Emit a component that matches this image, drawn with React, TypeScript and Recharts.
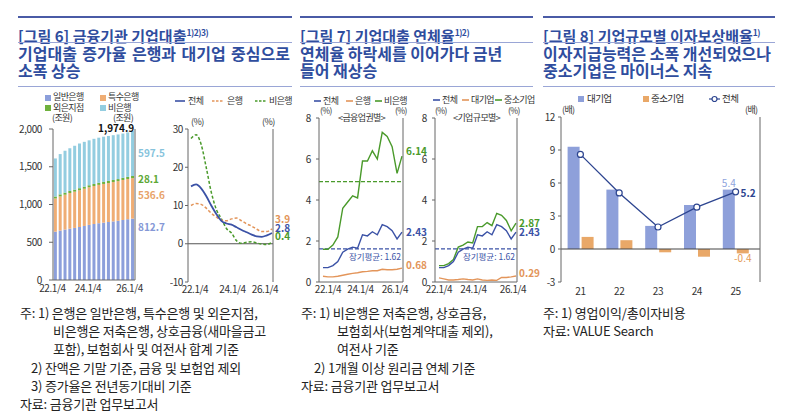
import React from "react";
import { BarChart, Bar, LineChart, Line, ComposedChart, XAxis, YAxis, ReferenceLine, LabelList } from "recharts";

const FONT = '"Noto Sans CJK KR", "Noto Sans", sans-serif';

// 분기 (22.1/4 ~ 26.1/4)
const quarters = [
  "22.1/4", "22.2/4", "22.3/4", "22.4/4",
  "23.1/4", "23.2/4", "23.3/4", "23.4/4",
  "24.1/4", "24.2/4", "24.3/4", "24.4/4",
  "25.1/4", "25.2/4", "25.3/4", "25.4/4",
  "26.1/4",
];

// [그림 6] 기업대출 잔액 (조원)
const generalBank = [640, 655, 668, 680, 690, 702, 716, 730, 742, 752, 760, 768, 776, 784, 795, 805, 812.7];
const specialBank = [440, 452, 462, 472, 480, 487, 493, 498, 503, 508, 512, 516, 521, 525, 530, 533, 536.6];
const foreignBranch = [26, 27, 27, 27, 27, 27, 27, 27, 27, 27, 27, 28, 28, 28, 28, 28, 28.1];
const nonBank = [504, 534, 555, 566, 581, 592, 594, 595, 598, 598, 599, 596, 593, 591, 587, 589, 597.5];

// [그림 6] 증가율 (%)
const growthTotal = [15.0, 15.5, 14.5, 12.5, 10.0, 7.8, 6.0, 5.3, 5.0, 4.3, 3.6, 3.0, 2.4, 1.9, 1.8, 2.2, 2.8];
const growthBank = [10.0, 10.5, 10.3, 9.3, 8.0, 7.0, 6.2, 6.0, 6.5, 6.7, 6.0, 5.2, 4.6, 3.8, 3.2, 3.2, 3.9];
const growthNonBank = [27.5, 28.5, 26.0, 20.0, 13.5, 9.0, 6.5, 4.0, 2.8, 0.8, 0.1, 0.4, 0.5, 0.2, -0.1, -0.2, 0.4];

// [그림 7] 연체율 (%)
const dqTotal = [0.7, 0.7, 0.8, 1.0, 1.45, 1.6, 1.7, 1.65, 2.3, 2.25, 2.45, 2.3, 2.8, 2.7, 2.5, 2.1, 2.43];
const dqBank = [0.28, 0.25, 0.25, 0.28, 0.33, 0.38, 0.42, 0.45, 0.5, 0.52, 0.55, 0.55, 0.62, 0.6, 0.6, 0.62, 0.68];
const dqNonBank = [1.6, 1.6, 1.8, 2.2, 3.6, 3.9, 4.2, 4.1, 5.9, 5.9, 6.4, 6.0, 7.3, 7.1, 6.6, 5.3, 6.14];
const dqLarge = [0.2, 0.15, 0.1, 0.1, 0.12, 0.15, 0.12, 0.1, 0.15, 0.1, 0.08, 0.1, 0.08, 0.22, 0.22, 0.25, 0.29];
const dqSme = [0.8, 0.8, 0.9, 1.1, 1.7, 1.8, 1.95, 1.9, 2.7, 2.7, 2.9, 2.75, 3.35, 3.25, 3.0, 2.5, 2.87];
const avgTotal = 1.62;
const avgNonBank = 4.9;

// [그림 8] 이자보상배율 (배)
const years = ["21", "22", "23", "24", "25"];
const icrLarge = [9.3, 5.4, 2.1, 4.0, 5.4];
const icrSme = [1.1, 0.8, -0.3, -0.7, -0.4];
const icrTotal = [8.6, 5.1, 2.0, 3.8, 5.2];

const loanTicks = [0, 500, 1000, 1500, 2000];
const growthTicks = [-10, 0, 10, 20, 30];
const dqTicks = [0, 2, 4, 6, 8];
const icrTicks = [-3, 0, 3, 6, 9, 12];

const loanRows = quarters.map((q, i) => ({
  q,
  general: generalBank[i],
  special: specialBank[i],
  foreign: foreignBranch[i],
  nonbank: nonBank[i],
}));
const growthRows = quarters.map((q, i) => ({ q, total: growthTotal[i], bank: growthBank[i], nonbank: growthNonBank[i] }));
const dqRows = quarters.map((q, i) => ({
  q,
  total: dqTotal[i],
  bank: dqBank[i],
  nonbank: dqNonBank[i],
  large: dqLarge[i],
  sme: dqSme[i],
}));
const icrRows = years.map((y, i) => ({ y, large: icrLarge[i], sme: icrSme[i], total: icrTotal[i] }));

const LAST = quarters.length - 1;
const loanTotal = generalBank[LAST] + specialBank[LAST] + foreignBranch[LAST] + nonBank[LAST];

const TITLE = "#2f4d9e";
const RULE = "#4a5ba6";
const THIN = "#9aa6d6";
const AXIS = "#666";

const C = {
  general: "#8c9fdb",
  special: "#efad74",
  foreign: "#6fb13d",
  nonbankBar: "#93cde0",
  blue: "#3b52a6",
  orange: "#e3955a",
  green: "#4a9a2b",
  large: "#8ea0da",
  sme: "#e9a868",
  line3: "#2d4590",
};

const tick = { fontSize: 10, fill: "#333", fontFamily: FONT, letterSpacing: -0.4 };

// x축 라벨을 살짝 안쪽으로 (원본 배치)
function shiftedTick(shift: Record<string, number>) {
  return (p: any) => (
    <text x={p.x + (shift[p.payload.value] ?? 0)} y={p.y} dy="0.71em" textAnchor="middle" {...tick}>
      {p.payload.value}
    </text>
  );
}

function lineEnd(color: string, dy: number, dx = 3, idx = LAST) {
  return (p: any) => {
    if (p.index !== idx) return null;
    const x = p.viewBox?.x ?? p.x;
    const y = p.viewBox?.y ?? p.y;
    return (
      <text x={x + dx} y={y + dy} dy="0.35em" fill={color} fontSize={10} fontWeight={700} fontFamily={FONT}>
        {p.value}
      </text>
    );
  };
}

function stackEnd(color: string, dy: number, withTotal = false) {
  return (p: any) => {
    if (p.index !== LAST) return null;
    const vb = p.viewBox ?? p;
    return (
      <g fontFamily={FONT} fontSize={10}>
        <text x={vb.x + vb.width + 4} y={vb.y + vb.height / 2 + dy} dy="0.35em" fill={color} fontWeight={700}>
          {p.value}
        </text>
        {withTotal && (
          <text x={vb.x + vb.width} y={vb.y + 1} textAnchor="end" fill="#111" fontWeight={700}>
            {loanTotal.toLocaleString("en-US", { minimumFractionDigits: 1, maximumFractionDigits: 1 })}
          </text>
        )}
      </g>
    );
  };
}

const avgLabel = (p: any) => {
  const vb = p.viewBox;
  return (
    <text x={vb.x + vb.width - 2} y={vb.y + 11} textAnchor="end" fill={C.blue} fontSize={8.5} fontFamily={FONT}>
      장기평균: {avgTotal}
    </text>
  );
};

function At({ x, y, size = 9.5, color = "#333", bold = false, children, ls = -0.6 }: any) {
  return (
    <div
      style={{
        position: "absolute",
        left: x,
        top: y - size * 0.7,
        fontSize: size,
        lineHeight: `${size * 1.4}px`,
        color,
        fontWeight: bold ? 700 : 400,
        letterSpacing: ls,
        whiteSpace: "nowrap",
      }}
    >
      {children}
    </div>
  );
}

function Square({ x, y, color }: any) {
  return <div style={{ position: "absolute", left: x, top: y - 3, width: 6, height: 6, background: color }} />;
}

function LineKey({ x, y, color, dashed = false, w = 10 }: any) {
  return (
    <svg style={{ position: "absolute", left: x, top: y - 2 }} width={w} height={4}>
      <line x1={0} y1={2} x2={w} y2={2} stroke={color} strokeWidth={1.6} strokeDasharray={dashed ? "2.5 1.5" : undefined} />
    </svg>
  );
}

function Header({ left, width, fig, title, sup, lines, firstWidth }: any) {
  const sub = {
    position: "absolute" as const,
    left,
    fontSize: 16,
    lineHeight: "17px",
    fontWeight: 700,
    color: TITLE,
    letterSpacing: 0,
    whiteSpace: "nowrap" as const,
  };
  return (
    <>
      <div style={{ position: "absolute", left, top: 16, width, height: 2, background: RULE }} />
      <div
        style={{
          position: "absolute",
          left,
          top: 22,
          fontSize: 15,
          lineHeight: "20px",
          fontWeight: 700,
          color: TITLE,
          whiteSpace: "nowrap",
        }}
      >
        [그림 {fig}] {title}
        <span style={{ fontSize: 8.5, verticalAlign: 6, letterSpacing: -0.5 }}>{sup}</span>
      </div>
      <div style={{ position: "absolute", left, top: 42, width, height: 1, background: THIN }} />
      <div style={{ ...sub, top: 44.5, width: firstWidth, textAlign: "justify", textAlignLast: "justify" }}>{lines[0]}</div>
      <div style={{ ...sub, top: 61.5 }}>{lines[1]}</div>
      <div style={{ position: "absolute", left, top: 86, width, height: 1, background: THIN }} />
    </>
  );
}

function Notes({ left, rows }: any) {
  return (
    <div style={{ position: "absolute", left: 0, top: 304, fontSize: 13, lineHeight: "18.2px", color: "#222", letterSpacing: -0.2 }}>
      {rows.map((r: any, i: number) => (
        <div key={i} style={{ paddingLeft: left + r[0], whiteSpace: "nowrap" }}>
          {r[1]}
        </div>
      ))}
    </div>
  );
}

function LoanBars() {
  return (
    <div style={{ position: "absolute", left: 10, top: 110 }}>
      <BarChart width={165} height={195} data={loanRows} margin={{ top: 19, right: 0, bottom: 0, left: 0 }} barCategoryGap="18%">
        <XAxis
          dataKey="q"
          interval={7}
          tick={shiftedTick({ "22.1/4": -3, "24.1/4": -6, "26.1/4": -3 })}
          tickLine={false}
          axisLine={{ stroke: AXIS }}
          height={25}
          tickSize={2}
          tickMargin={3}
        />
        <YAxis
          yAxisId="l"
          domain={[0, 2000]}
          ticks={loanTicks}
          tickFormatter={(v) => v.toLocaleString("en-US")}
          width={43}
          tick={tick}
          tickSize={4}
          tickMargin={7}
          axisLine={{ stroke: AXIS }}
          tickLine={{ stroke: AXIS }}
        />
        <YAxis
          yAxisId="r"
          orientation="right"
          domain={[0, 2000]}
          ticks={loanTicks}
          tickFormatter={(v) => v.toLocaleString("en-US")}
          width={40}
          tick={tick}
          tickSize={3}
          tickMargin={5}
          axisLine={{ stroke: AXIS }}
          tickLine={{ stroke: AXIS }}
        />
        <Bar yAxisId="l" dataKey="general" stackId="s" fill={C.general} isAnimationActive={false}>
          <LabelList dataKey="general" content={stackEnd("#8598d6", -22)} />
        </Bar>
        <Bar yAxisId="l" dataKey="special" stackId="s" fill={C.special} isAnimationActive={false}>
          <LabelList dataKey="special" content={stackEnd("#e8a36a", -3)} />
        </Bar>
        <Bar yAxisId="l" dataKey="foreign" stackId="s" fill={C.foreign} isAnimationActive={false}>
          <LabelList dataKey="foreign" content={stackEnd("#5ea836", 2)} />
        </Bar>
        <Bar yAxisId="l" dataKey="nonbank" stackId="s" fill={C.nonbankBar} isAnimationActive={false}>
          <LabelList dataKey="nonbank" content={stackEnd("#86c3dc", 0, true)} />
        </Bar>
      </BarChart>
    </div>
  );
}

function GrowthLines() {
  return (
    <div style={{ position: "absolute", left: 170, top: 110 }}>
      <LineChart width={125} height={197} data={growthRows} margin={{ top: 19, right: 5, bottom: 0, left: 0 }}>
        <XAxis
          dataKey="q"
          interval={7}
          padding={{ left: 3, right: 1 }}
          axisLine={false}
          tickLine={false}
          tick={shiftedTick({ "22.1/4": 4, "24.1/4": 1, "26.1/4": -7 })}
          height={25}
          tickSize={2}
          tickMargin={2}
        />
        <YAxis yAxisId="l" domain={[-10, 30]} ticks={growthTicks} width={18} tick={tick} tickSize={3} tickMargin={2} axisLine={{ stroke: AXIS }} tickLine={{ stroke: AXIS }} />
        <YAxis yAxisId="r" orientation="right" domain={[-10, 30]} ticks={growthTicks} width={17} tick={false} axisLine={{ stroke: AXIS }} />
        <ReferenceLine yAxisId="l" y={0} stroke="#555" />
        <Line yAxisId="l" type="monotone" dataKey="nonbank" stroke={C.green} strokeWidth={1.5} strokeDasharray="3 2" dot={false} isAnimationActive={false}>
          <LabelList dataKey="nonbank" content={lineEnd(C.green, -6)} />
        </Line>
        <Line yAxisId="l" type="monotone" dataKey="bank" stroke={C.orange} strokeWidth={1.5} strokeDasharray="3 2" dot={false} isAnimationActive={false}>
          <LabelList dataKey="bank" content={lineEnd(C.orange, -9)} />
        </Line>
        <Line yAxisId="l" type="monotone" dataKey="total" stroke={C.blue} strokeWidth={1.8} dot={false} isAnimationActive={false}>
          <LabelList dataKey="total" content={lineEnd(C.blue, -5)} />
        </Line>
      </LineChart>
    </div>
  );
}

function SectorDelinquency() {
  return (
    <div style={{ position: "absolute", left: 295, top: 100 }}>
      <LineChart width={140} height={207} data={dqRows} margin={{ top: 18, right: 10, bottom: 0, left: 0 }}>
        <XAxis
          dataKey="q"
          interval={7}
          padding={{ left: 4, right: 1 }}
          axisLine={{ stroke: AXIS }}
          tickLine={false}
          tick={shiftedTick({ "22.1/4": 5, "24.1/4": -2, "26.1/4": -7 })}
          height={25}
          tickSize={2}
          tickMargin={2}
        />
        <YAxis yAxisId="l" domain={[0, 8]} ticks={dqTicks} width={24} tick={tick} tickSize={3} tickMargin={5} axisLine={{ stroke: AXIS }} tickLine={{ stroke: AXIS }} />
        <YAxis yAxisId="r" orientation="right" domain={[0, 8]} ticks={dqTicks} width={22} tick={tick} tickSize={3} tickMargin={4} axisLine={{ stroke: AXIS }} tickLine={{ stroke: AXIS }} />
        <ReferenceLine yAxisId="l" y={avgNonBank} stroke={C.green} strokeWidth={1.3} strokeDasharray="4 2" />
        <ReferenceLine yAxisId="l" y={avgTotal} stroke={C.blue} strokeWidth={1.3} strokeDasharray="4 2" label={avgLabel} />
        <Line yAxisId="l" type="linear" dataKey="bank" stroke={C.orange} strokeWidth={1.4} dot={false} isAnimationActive={false}>
          <LabelList dataKey="bank" content={lineEnd(C.orange, -3, 4)} />
        </Line>
        <Line yAxisId="l" type="linear" dataKey="nonbank" stroke={C.green} strokeWidth={1.4} dot={false} isAnimationActive={false}>
          <LabelList dataKey="nonbank" content={lineEnd(C.green, -5, 4)} />
        </Line>
        <Line yAxisId="l" type="linear" dataKey="total" stroke={C.blue} strokeWidth={1.4} dot={false} isAnimationActive={false}>
          <LabelList dataKey="total" content={lineEnd(C.blue, 0, 4)} />
        </Line>
      </LineChart>
    </div>
  );
}

function SizeDelinquency() {
  return (
    <div style={{ position: "absolute", left: 413, top: 100 }}>
      <LineChart width={137} height={207} data={dqRows} margin={{ top: 18, right: 10, bottom: 0, left: 0 }}>
        <XAxis
          dataKey="q"
          interval={7}
          padding={{ left: 4, right: 1 }}
          axisLine={{ stroke: AXIS }}
          tickLine={false}
          tick={shiftedTick({ "22.1/4": 0, "24.1/4": -4, "26.1/4": -3 })}
          height={25}
          tickSize={2}
          tickMargin={2}
        />
        <YAxis yAxisId="l" domain={[0, 8]} ticks={dqTicks} width={22} tick={tick} tickSize={3} tickMargin={5} axisLine={{ stroke: AXIS }} tickLine={{ stroke: AXIS }} />
        <YAxis yAxisId="r" orientation="right" domain={[0, 8]} ticks={dqTicks} width={23} tick={tick} tickSize={2} tickMargin={3} axisLine={{ stroke: AXIS }} tickLine={{ stroke: AXIS }} />
        <ReferenceLine yAxisId="l" y={avgTotal} stroke={C.blue} strokeWidth={1.3} strokeDasharray="4 2" label={avgLabel} />
        <Line yAxisId="l" type="linear" dataKey="large" stroke={C.orange} strokeWidth={1.4} dot={false} isAnimationActive={false}>
          <LabelList dataKey="large" content={lineEnd(C.orange, -3, 3)} />
        </Line>
        <Line yAxisId="l" type="linear" dataKey="sme" stroke={C.green} strokeWidth={1.4} dot={false} isAnimationActive={false}>
          <LabelList dataKey="sme" content={lineEnd(C.green, 0, 3)} />
        </Line>
        <Line yAxisId="l" type="linear" dataKey="total" stroke={C.blue} strokeWidth={1.4} dot={false} isAnimationActive={false}>
          <LabelList dataKey="total" content={lineEnd(C.blue, 0, 3)} />
        </Line>
      </LineChart>
    </div>
  );
}

const icrLast = years.length - 1;

const largeTop = (p: any) => {
  if (p.index !== icrLast) return null;
  const vb = p.viewBox ?? p;
  return (
    <text x={vb.x + vb.width / 2} y={Math.min(vb.y, vb.y + vb.height) - 3} textAnchor="middle" fill="#8ea3dd" fontSize={10} fontFamily={FONT}>
      {p.value}
    </text>
  );
};

const smeBottom = (p: any) => {
  if (p.index !== icrLast) return null;
  const vb = p.viewBox ?? p;
  return (
    <text x={vb.x + vb.width / 2} y={Math.max(vb.y, vb.y + vb.height) + 9} textAnchor="middle" fill="#e49a55" fontSize={10} fontFamily={FONT}>
      {p.value}
    </text>
  );
};

function CoverageChart() {
  return (
    <div style={{ position: "absolute", left: 535, top: 95 }}>
      <ComposedChart width={265} height={212} data={icrRows} margin={{ top: 22, right: 0, bottom: 0, left: 0 }} barGap={2} barCategoryGap="17%">
        <XAxis dataKey="y" padding={{ left: 0, right: 5 }} axisLine={false} tickLine={false} tick={tick} height={25} tickSize={2} tickMargin={4} />
        <YAxis yAxisId="l" domain={[-3, 12]} ticks={icrTicks} width={26} tick={tick} tickSize={3} tickMargin={3} axisLine={{ stroke: AXIS }} tickLine={{ stroke: AXIS }} />
        <YAxis yAxisId="r" orientation="right" domain={[-3, 12]} ticks={icrTicks} width={40} tick={tick} tickSize={2} tickMargin={2} axisLine={{ stroke: AXIS }} tickLine={{ stroke: AXIS }} />
        <Bar yAxisId="l" dataKey="large" fill={C.large} isAnimationActive={false}>
          <LabelList dataKey="large" content={largeTop} />
        </Bar>
        <Bar yAxisId="l" dataKey="sme" fill={C.sme} isAnimationActive={false}>
          <LabelList dataKey="sme" content={smeBottom} />
        </Bar>
        <ReferenceLine yAxisId="l" y={0} stroke="#444" />
        <Line
          yAxisId="l"
          type="linear"
          dataKey="total"
          stroke={C.line3}
          strokeWidth={1.3}
          dot={{ r: 3, fill: "#fff", stroke: C.line3, strokeWidth: 1.2 }}
          isAnimationActive={false}
        >
          <LabelList dataKey="total" content={lineEnd(C.line3, 2, 5, icrLast)} />
        </Line>
      </ComposedChart>
    </div>
  );
}

export default function App() {
  return (
    <div
      style={{
        position: "absolute",
        left: 0,
        top: 0,
        width: 800,
        height: 419,
        background: "#fff",
        fontFamily: FONT,
        overflow: "hidden",
      }}
    >
      <Header left={18} width={274} firstWidth={272} fig={6} title="금융기관 기업대출" sup="1)2)3)" lines={["기업대출 증가율 은행과 대기업 중심으로", "소폭 상승"]} />
      <Header left={300} width={233} firstWidth={200} fig={7} title="기업대출 연체율" sup="1)2)" lines={["연체율 하락세를 이어가다 금년", "들어 재상승"]} />
      <Header left={543} width={232} firstWidth={227} fig={8} title="기업규모별 이자보상배율" sup="1)" lines={["이자지급능력은 소폭 개선되었으나", "중소기업은 마이너스 지속"]} />

      {/* 그림 6 */}
      <Square x={45} y={97.5} color={C.general} />
      <At x={53} y={97.5} size={9}>일반은행</At>
      <Square x={100} y={97.5} color={C.special} />
      <At x={108} y={97.5} size={9}>특수은행</At>
      <Square x={45} y={108} color={C.foreign} />
      <At x={53} y={108} size={9}>외은지점</At>
      <Square x={100} y={108} color={C.nonbankBar} />
      <At x={108} y={108} size={9}>비은행</At>
      <At x={52} y={118} size={9}>(조원)</At>
      <At x={113} y={118} size={9}>(조원)</At>

      <LineKey x={175} y={101} color={C.blue} />
      <At x={188} y={101} size={9}>전체</At>
      <LineKey x={212} y={101} color={C.orange} dashed w={12} />
      <At x={227} y={101} size={9}>은행</At>
      <LineKey x={255} y={101} color={C.green} dashed w={12} />
      <At x={269} y={101} size={9}>비은행</At>
      <At x={191} y={122} size={9}>(%)</At>
      <At x={262} y={122} size={9}>(%)</At>

      <LoanBars />
      <GrowthLines />

      {/* 그림 7 */}
      <LineKey x={314} y={101} color={C.blue} w={7} />
      <At x={323} y={101} size={9}>전체</At>
      <LineKey x={346} y={101} color={C.orange} w={7} />
      <At x={355} y={101} size={9}>은행</At>
      <LineKey x={375} y={101} color={C.green} w={7} />
      <At x={384} y={101} size={9}>비은행</At>
      <LineKey x={433} y={100} color={C.blue} w={7} />
      <At x={442} y={100} size={9}>전체</At>
      <LineKey x={462} y={100} color={C.orange} w={7} />
      <At x={471} y={100} size={9}>대기업</At>
      <LineKey x={495} y={100} color={C.green} w={7} />
      <At x={504} y={100} size={9}>중소기업</At>

      <At x={320} y={111} size={8.5}>(%)</At>
      <At x={395} y={111} size={8.5}>(%)</At>
      <At x={338} y={118} size={9}>&lt;금융업권별&gt;</At>
      <At x={435} y={111} size={8.5}>(%)</At>
      <At x={508} y={111} size={8.5}>(%)</At>
      <At x={453} y={118} size={9}>&lt;기업규모별&gt;</At>

      <SectorDelinquency />
      <SizeDelinquency />

      {/* 그림 8 */}
      <Square x={578} y={99} color={C.large} />
      <At x={587} y={99} size={9.5}>대기업</At>
      <Square x={643} y={99} color={C.sme} />
      <At x={651} y={99} size={9.5}>중소기업</At>
      <svg style={{ position: "absolute", left: 709, top: 95 }} width={11} height={8}>
        <line x1={0} y1={4} x2={11} y2={4} stroke={C.line3} strokeWidth={1.2} />
        <circle cx={5.5} cy={4} r={2.5} fill="#fff" stroke={C.line3} strokeWidth={1.2} />
      </svg>
      <At x={722} y={99} size={9.5}>전체</At>
      <At x={562} y={110} size={9}>(배)</At>
      <At x={745} y={110} size={9}>(배)</At>

      <CoverageChart />

      <Notes
        left={20}
        rows={[
          [0, "주: 1) 은행은 일반은행, 특수은행 및 외은지점,"],
          [33, "비은행은 저축은행, 상호금융(새마을금고"],
          [33, "포함), 보험회사 및 여전사 합계 기준"],
          [11, "2) 잔액은 기말 기준, 금융 및 보험업 제외"],
          [11, "3) 증가율은 전년동기대비 기준"],
          [0, "자료: 금융기관 업무보고서"],
        ]}
      />
      <Notes
        left={301}
        rows={[
          [0, "주: 1) 비은행은 저축은행, 상호금융,"],
          [36, "보험회사(보험계약대출 제외),"],
          [36, "여전사 기준"],
          [13, "2) 1개월 이상 원리금 연체 기준"],
          [0, "자료: 금융기관 업무보고서"],
        ]}
      />
      <Notes
        left={543}
        rows={[
          [0, "주: 1) 영업이익/총이자비용"],
          [0, "자료: VALUE Search"],
        ]}
      />
    </div>
  );
}
